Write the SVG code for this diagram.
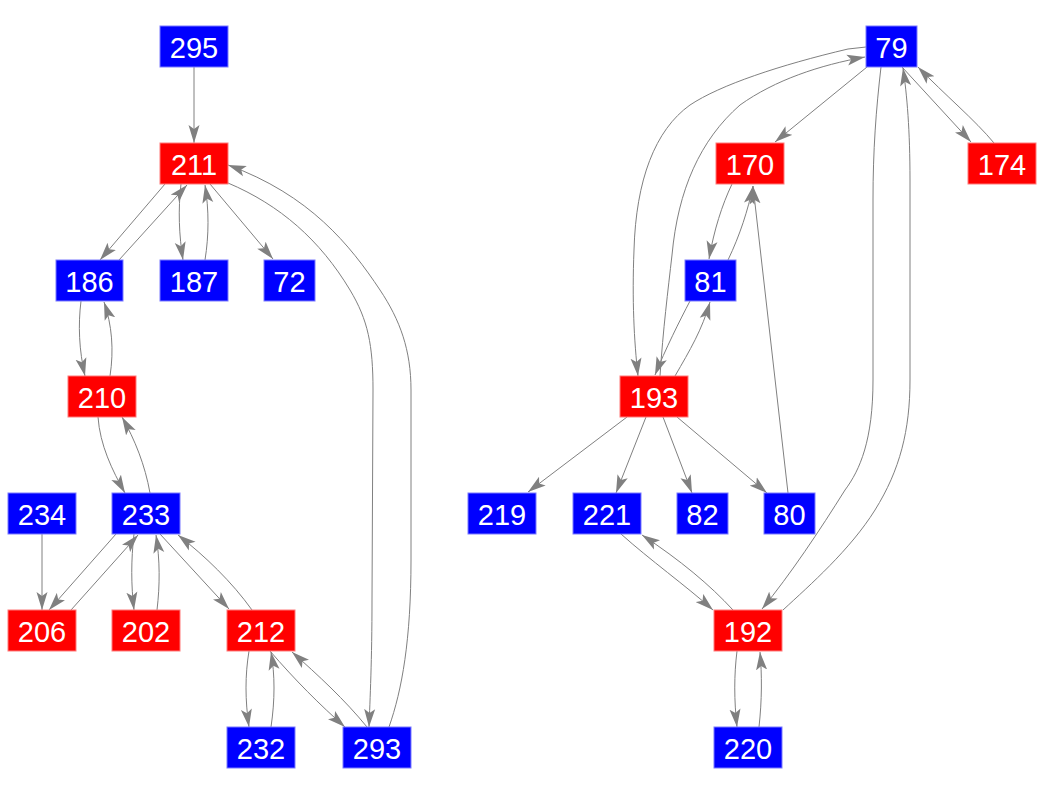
<svg xmlns="http://www.w3.org/2000/svg" width="1044" height="792" viewBox="0 0 1044 792">
<style>
.e{fill:none;stroke:#808080;stroke-width:1;marker-end:url(#ah)}
.b rect{fill:#0000ff;stroke:#7a7aff;stroke-width:1}
.r rect{fill:#ff0000;stroke:#ff7a7a;stroke-width:1}
text{font-family:"Liberation Sans",Arial,sans-serif;font-size:29px;fill:#ffffff;text-anchor:middle}
</style>
<defs>
<marker id="ah" markerUnits="userSpaceOnUse" viewBox="0 0 18 12" markerWidth="18" markerHeight="12" refX="18" refY="6" orient="auto">
<path d="M0,0.5 L18,6 L0,11.5 L4,6 z" fill="#808080"/>
</marker>
</defs>
<rect width="1044" height="792" fill="#ffffff"/>
<g id="connectors">
<path class="e" d="M194,67 L194,143"/>
<path class="e" d="M165,184 L100,260"/>
<path class="e" d="M119,260 L187,185"/>
<path class="e" d="M181,184 C178,210 179,235 183,260"/>
<path class="e" d="M205,260 C209,235 209,210 205,185"/>
<path class="e" d="M210,184 L273,259"/>
<path class="e" d="M228,183 C280,205 320,240 350,290 C368,320 373,345 373,390 L372,600 C372,660 370,700 369,727"/>
<path class="e" d="M389,727 C402,690 411,640 411,560 L411,390 C411,350 400,320 380,290 C350,245 310,195 228,165"/>
<path class="e" d="M81,301 C78,325 79,350 85,376"/>
<path class="e" d="M110,376 C114,350 112,325 104,302"/>
<path class="e" d="M98,417 C100,445 112,470 125,493"/>
<path class="e" d="M150,493 C145,465 135,440 122,417"/>
<path class="e" d="M42,534 L42,610"/>
<path class="e" d="M116,534 L49,610"/>
<path class="e" d="M71,610 L138,535"/>
<path class="e" d="M134,534 C131,560 131,585 134,610"/>
<path class="e" d="M157,610 C160,585 160,560 156,535"/>
<path class="e" d="M160,534 L229,609"/>
<path class="e" d="M252,610 C232,582 205,556 178,535"/>
<path class="e" d="M249,651 C245,675 245,700 249,727"/>
<path class="e" d="M271,727 C275,700 275,675 271,652"/>
<path class="e" d="M270,651 C295,680 320,705 345,727"/>
<path class="e" d="M367,727 C345,700 318,675 292,652"/>
<path class="e" d="M867,67 L775,142"/>
<path class="e" d="M902,67 L971,142"/>
<path class="e" d="M994,143 C975,120 945,95 918,67"/>
<path class="e" d="M866,47 L848,49 C780,65 720,85 690,105 C655,130 636,180 634,250 C632,300 634,340 638,376"/>
<path class="e" d="M660,376 C663,330 668,290 672,255 C678,190 700,140 740,105 C775,80 820,65 865,57"/>
<path class="e" d="M881,67 C876,110 873,150 873,200 L873,380 C873,440 860,470 845,490 C820,530 790,575 762,609"/>
<path class="e" d="M783,610 C810,585 850,550 875,510 C900,470 910,430 910,380 L910,180 C910,130 907,95 903,68"/>
<path class="e" d="M732,184 C722,205 714,230 709,259"/>
<path class="e" d="M728,260 C740,235 748,210 753,186"/>
<path class="e" d="M788,493 L753,186"/>
<path class="e" d="M690,301 C680,320 665,350 655,375"/>
<path class="e" d="M675,376 C690,350 702,330 710,302"/>
<path class="e" d="M627,417 L528,492"/>
<path class="e" d="M646,417 L616,493"/>
<path class="e" d="M663,417 L692,493"/>
<path class="e" d="M677,417 L767,493"/>
<path class="e" d="M621,534 C650,560 685,585 713,610"/>
<path class="e" d="M733,610 C710,585 680,560 642,535"/>
<path class="e" d="M737,651 C734,675 734,700 737,727"/>
<path class="e" d="M759,727 C762,700 762,675 760,652"/>
</g>
<g id="n295" class="b"><rect x="160" y="26" width="68" height="41"/><text x="194" y="58">295</text></g>
<g id="n211" class="r"><rect x="160" y="143" width="68" height="41"/><text x="194" y="175">211</text></g>
<g id="n186" class="b"><rect x="56" y="260" width="67" height="41"/><text x="89.5" y="292">186</text></g>
<g id="n187" class="b"><rect x="160" y="260" width="68" height="41"/><text x="194" y="292">187</text></g>
<g id="n72" class="b"><rect x="264" y="260" width="51" height="41"/><text x="289.5" y="292">72</text></g>
<g id="n210" class="r"><rect x="68" y="376" width="68" height="41"/><text x="102" y="408">210</text></g>
<g id="n234" class="b"><rect x="8" y="493" width="68" height="41"/><text x="42" y="525">234</text></g>
<g id="n233" class="b"><rect x="112" y="493" width="68" height="41"/><text x="146" y="525">233</text></g>
<g id="n206" class="r"><rect x="8" y="610" width="68" height="41"/><text x="42" y="642">206</text></g>
<g id="n202" class="r"><rect x="112" y="610" width="68" height="41"/><text x="146" y="642">202</text></g>
<g id="n212" class="r"><rect x="227" y="610" width="68" height="41"/><text x="261" y="642">212</text></g>
<g id="n232" class="b"><rect x="227" y="727" width="68" height="41"/><text x="261" y="759">232</text></g>
<g id="n293" class="b"><rect x="343" y="727" width="68" height="41"/><text x="377" y="759">293</text></g>
<g id="n79" class="b"><rect x="866" y="26" width="51" height="41"/><text x="891.5" y="58">79</text></g>
<g id="n170" class="r"><rect x="716" y="143" width="68" height="41"/><text x="750" y="175">170</text></g>
<g id="n174" class="r"><rect x="968" y="143" width="68" height="41"/><text x="1002" y="175">174</text></g>
<g id="n81" class="b"><rect x="685" y="260" width="51" height="41"/><text x="710.5" y="292">81</text></g>
<g id="n193" class="r"><rect x="620" y="376" width="68" height="41"/><text x="654" y="408">193</text></g>
<g id="n219" class="b"><rect x="468" y="493" width="68" height="41"/><text x="502" y="525">219</text></g>
<g id="n221" class="b"><rect x="573" y="493" width="68" height="41"/><text x="607" y="525">221</text></g>
<g id="n82" class="b"><rect x="677" y="493" width="51" height="41"/><text x="702.5" y="525">82</text></g>
<g id="n80" class="b"><rect x="764" y="493" width="51" height="41"/><text x="789.5" y="525">80</text></g>
<g id="n192" class="r"><rect x="714" y="610" width="68" height="41"/><text x="748" y="642">192</text></g>
<g id="n220" class="b"><rect x="714" y="727" width="68" height="41"/><text x="748" y="759">220</text></g>
</svg>
